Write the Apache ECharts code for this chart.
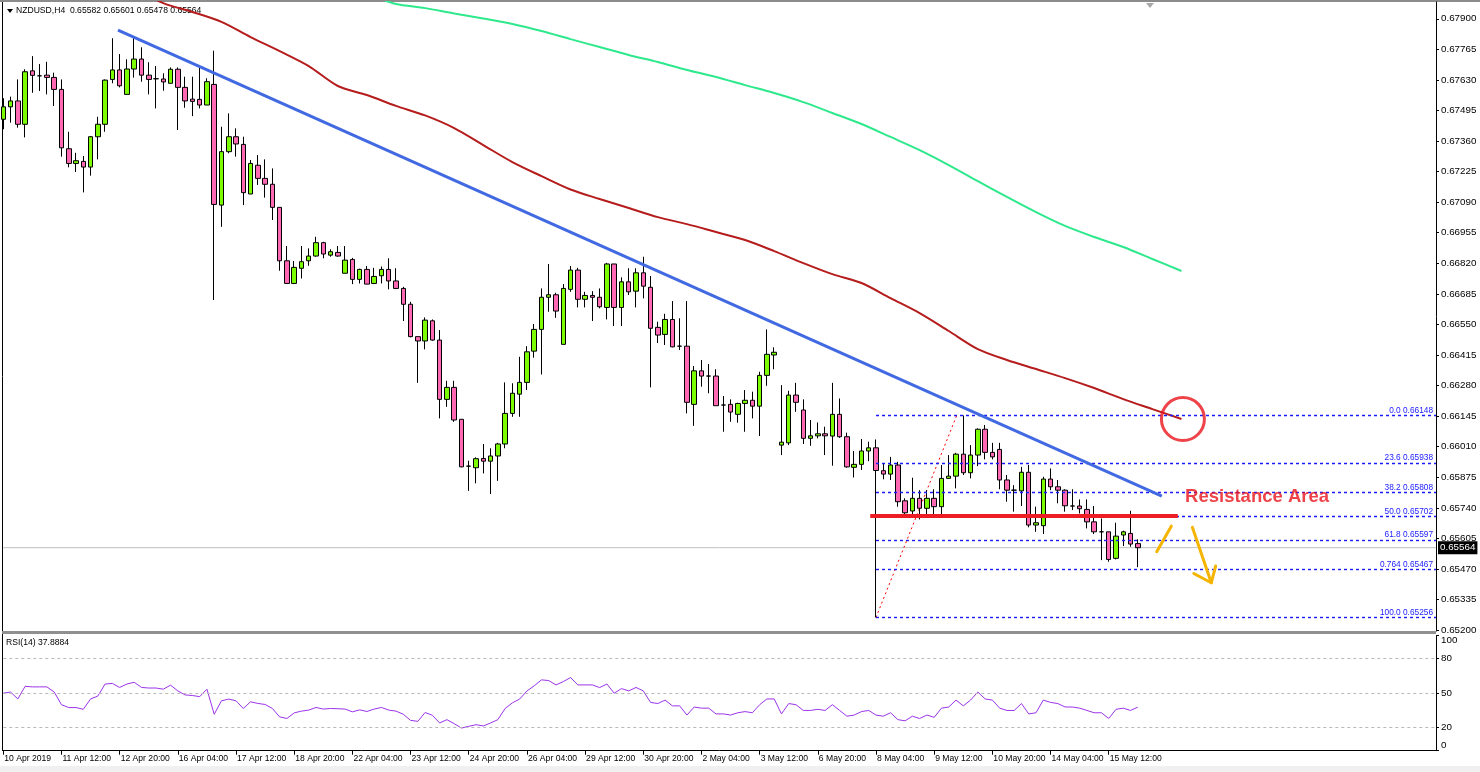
<!DOCTYPE html>
<html><head><meta charset="utf-8">
<script src="https://cdn.jsdelivr.net/npm/echarts@6/dist/echarts.min.js"></script>
<style>html,body{margin:0;padding:0;background:#fff;}#c{width:1480px;height:772px;}</style>
</head><body><div id="c"></div>
<script>
const tickLabels = ['10 Apr 2019','11 Apr 12:00','12 Apr 20:00','16 Apr 04:00','17 Apr 12:00','18 Apr 20:00','22 Apr 04:00','23 Apr 12:00','24 Apr 20:00','26 Apr 04:00','29 Apr 12:00','30 Apr 20:00','2 May 04:00','3 May 12:00','6 May 20:00','8 May 04:00','9 May 12:00','10 May 20:00','14 May 04:00','15 May 12:00'];
const priceTicks = [0.65200,0.65335,0.65470,0.65605,0.65740,0.65875,0.66010,0.66145,0.66280,0.66415,0.66550,0.66685,0.66820,0.66955,0.67090,0.67225,0.67360,0.67495,0.67630,0.67765,0.67900];
const rsiTicks = [0,20,50,80,100];
const rsiLevels = [20,50,80];

const opens = [0.67456,0.67511,0.67537,0.67434,0.67670,0.67648,0.67651,0.67641,0.67588,0.67326,
0.67261,0.67270,0.67245,0.67379,0.67434,0.67632,0.67674,0.67566,0.67678,0.67722,
0.67651,0.67635,0.67634,0.67615,0.67677,0.67597,0.67545,0.67544,0.67519,0.67610,
0.67077,0.67313,0.67379,0.67345,0.67126,0.67253,0.67195,0.67169,0.67067,0.66831,
0.66731,0.66798,0.66831,0.66852,0.66911,0.66856,0.66868,0.66776,0.66837,0.66749,
0.66793,0.66731,0.66765,0.66793,0.66742,0.66709,0.66639,0.66496,0.66477,0.66566,
0.66481,0.66219,0.66272,0.66131,0.65924,0.65917,0.65958,0.65946,0.65969,0.66022,
0.66157,0.66242,0.66294,0.66432,0.66528,0.66670,0.66681,0.66462,0.66705,0.66790,
0.66661,0.66678,0.66670,0.66625,0.66817,0.66625,0.66738,0.66697,0.66778,0.66714,
0.66537,0.66506,0.66572,0.66454,0.66454,0.66197,0.66345,0.66322,0.66322,0.66194,
0.66197,0.66153,0.66201,0.66215,0.66189,0.66325,0.66415,0.66017,0.66027,0.66238,
0.66172,0.66047,0.66058,0.66067,0.66057,0.66153,0.66054,0.65919,0.65932,0.65991,
0.66005,0.65904,0.65889,0.65929,0.65771,0.65726,0.65782,0.65738,0.65782,0.65745,
0.65870,0.65880,0.65977,0.65895,0.65973,0.66087,0.65985,0.65998,0.65863,0.65818,
0.65815,0.65897,0.65664,0.65661,0.65867,0.65833,0.65818,0.65748,0.65748,0.65733,
0.65678,0.65634,0.65634,0.65517,0.65620,0.65627,0.65582];
const closes = [0.67511,0.67537,0.67434,0.67666,0.67650,0.67648,0.67641,0.67588,0.67330,0.67261,
0.67273,0.67245,0.67379,0.67434,0.67629,0.67674,0.67604,0.67678,0.67722,0.67651,
0.67632,0.67635,0.67621,0.67677,0.67597,0.67537,0.67535,0.67519,0.67622,0.67080,
0.67313,0.67379,0.67347,0.67132,0.67261,0.67195,0.67169,0.67067,0.66831,0.66731,
0.66802,0.66827,0.66852,0.66911,0.66861,0.66871,0.66852,0.66834,0.66749,0.66793,
0.66728,0.66762,0.66793,0.66742,0.66709,0.66639,0.66496,0.66477,0.66569,0.66481,
0.66219,0.66272,0.66128,0.65921,0.65924,0.65957,0.65946,0.65969,0.66022,0.66157,
0.66246,0.66294,0.66429,0.66528,0.66670,0.66681,0.66609,0.66709,0.66790,0.66661,
0.66678,0.66670,0.66628,0.66817,0.66625,0.66738,0.66694,0.66778,0.66719,0.66533,
0.66503,0.66572,0.66451,0.66454,0.66206,0.66345,0.66322,0.66322,0.66191,0.66194,
0.66163,0.66201,0.66215,0.66189,0.66325,0.66418,0.66427,0.66030,0.66238,0.66206,
0.66047,0.66058,0.66067,0.66058,0.66153,0.66054,0.65921,0.65932,0.65991,0.66005,
0.65905,0.65889,0.65929,0.65767,0.65718,0.65782,0.65738,0.65782,0.65745,0.65870,
0.65880,0.65977,0.65895,0.65973,0.66087,0.65985,0.65965,0.65863,0.65818,0.65818,
0.65897,0.65664,0.65674,0.65867,0.65833,0.65818,0.65749,0.65748,0.65736,0.65678,
0.65634,0.65634,0.65512,0.65615,0.65634,0.65580,0.65564];
const lows = [0.67412,0.67441,0.67419,0.67376,0.67573,0.67581,0.67566,0.67515,0.67291,0.67244,
0.67223,0.67133,0.67207,0.67279,0.67401,0.67615,0.67597,0.67566,0.67640,0.67622,
0.67566,0.67504,0.67582,0.67615,0.67409,0.67507,0.67470,0.67504,0.67519,0.66658,
0.66981,0.67306,0.67291,0.67077,0.67126,0.67166,0.67110,0.67011,0.66787,0.66731,
0.66728,0.66753,0.66809,0.66849,0.66842,0.66849,0.66849,0.66776,0.66728,0.66731,
0.66728,0.66728,0.66731,0.66705,0.66706,0.66565,0.66493,0.66292,0.66440,0.66478,
0.66135,0.66186,0.66120,0.65919,0.65815,0.65848,0.65892,0.65801,0.65859,0.66003,
0.66142,0.66142,0.66260,0.66403,0.66329,0.66606,0.66579,0.66462,0.66694,0.66625,
0.66625,0.66565,0.66621,0.66572,0.66543,0.66543,0.66680,0.66625,0.66665,0.66272,
0.66468,0.66459,0.66449,0.66437,0.66157,0.66102,0.66275,0.66246,0.66191,0.66076,
0.66120,0.66116,0.66076,0.66135,0.66057,0.66279,0.66352,0.65973,0.66017,0.66164,
0.66022,0.66014,0.66047,0.65973,0.65926,0.66049,0.65917,0.65874,0.65907,0.65946,
0.65256,0.65866,0.65863,0.65745,0.65711,0.65708,0.65689,0.65708,0.65708,0.65708,
0.65870,0.65826,0.65885,0.65870,0.65924,0.65954,0.65954,0.65822,0.65767,0.65723,
0.65748,0.65654,0.65634,0.65624,0.65818,0.65760,0.65723,0.65730,0.65715,0.65649,
0.65624,0.65509,0.65502,0.65512,0.65571,0.65568,0.65478];
const highs = [0.67549,0.67556,0.67632,0.67677,0.67735,0.67700,0.67710,0.67662,0.67632,0.67401,
0.67308,0.67294,0.67382,0.67467,0.67632,0.67814,0.67744,0.67721,0.67821,0.67774,
0.67708,0.67691,0.67659,0.67685,0.67685,0.67644,0.67644,0.67685,0.67637,0.67759,
0.67423,0.67482,0.67416,0.67379,0.67276,0.67298,0.67279,0.67239,0.67067,0.66896,
0.66830,0.66896,0.66886,0.66937,0.66915,0.66882,0.66896,0.66896,0.66844,0.66796,
0.66808,0.66800,0.66806,0.66842,0.66798,0.66716,0.66650,0.66496,0.66581,0.66572,
0.66525,0.66301,0.66301,0.66131,0.65948,0.65963,0.66022,0.66003,0.66027,0.66294,
0.66290,0.66407,0.66454,0.66552,0.66709,0.66817,0.66690,0.66728,0.66808,0.66800,
0.66694,0.66697,0.66709,0.66822,0.66817,0.66758,0.66798,0.66798,0.66849,0.66764,
0.66562,0.66597,0.66653,0.66577,0.66653,0.66366,0.66393,0.66375,0.66352,0.66234,
0.66219,0.66204,0.66260,0.66253,0.66341,0.66528,0.66449,0.66282,0.66257,0.66292,
0.66219,0.66128,0.66117,0.66098,0.66292,0.66223,0.66072,0.65991,0.66044,0.66032,
0.66042,0.65936,0.65965,0.65943,0.65782,0.65873,0.65818,0.65818,0.65822,0.65929,
0.65973,0.65983,0.66148,0.66017,0.66091,0.66106,0.66027,0.66027,0.65885,0.65840,
0.65921,0.65929,0.65745,0.65877,0.65914,0.65863,0.65822,0.65822,0.65777,0.65777,
0.65748,0.65693,0.65634,0.65674,0.65639,0.65727,0.65601];

const rsiValues = [50,51,45,56,55.5,55.5,55.5,51,40,37.5,37.5,36,45,47.5,58,58.5,55,58,59.5,55,
54.5,54.5,53.5,57,52,48.5,48,47,53.5,31.7,43.4,44.9,43.4,36.7,42.5,41.1,40.2,36.7,29.4,28,
32.9,34.4,35.3,37.6,36.2,36.7,36.5,36.2,33.8,35.5,34.1,36.2,37.6,35.3,34.4,31.7,26.4,25.5,33.2,30.8,
24.1,27,23.5,19.7,21.2,22.6,21.5,24.1,27,36.7,41.6,44.9,51.9,56.4,61.6,61,57.2,60.1,63.6,57.2,
57.2,57.2,54.9,58,50,54,52,55,52,42,41,44,39,39,31,38,37,37,32,32,
31,33,34,33,40,45,45,32,41,40,35,35,36,35,40,35,30,31,34,35,
31,30,33,27,26,30,28,31,29,37,38,44,39,44,51,45,44,37,35,35,
41,32,33,44,42,41,38,38,37,35,33,33,28,36,37,35,37.89];

const redMA = [[18,0.68036],[22,0.67969],[26,0.67930],[30,0.67886],[34,0.67819],[38,0.67757],[42,0.67691],[46,0.67603],[50,0.67563],[54,0.67515],[58,0.67473],[62,0.67417],[66,0.67342],[70,0.67267],[74,0.67205],[78,0.67146],[82,0.67104],[86,0.67064],[90,0.67024],[94,0.66993],[98,0.66958],[102,0.66923],[106,0.66874],[110,0.66821],[114,0.66772],[118,0.66733],[122,0.66666],[126,0.66600],[130,0.66521],[134,0.66441],[138,0.66393],[142,0.66353],[146,0.66313],[150,0.66269],[154,0.66220],[158,0.66176],[162,0.66132]];
const greenMA = [[52,0.67987],[54,0.67965],[58,0.67947],[62,0.67923],[66,0.67901],[70,0.67877],[74,0.67846],[78,0.67810],[82,0.67775],[86,0.67740],[90,0.67709],[94,0.67674],[98,0.67643],[102,0.67607],[106,0.67572],[110,0.67532],[114,0.67484],[118,0.67435],[122,0.67378],[126,0.67320],[130,0.67254],[134,0.67183],[138,0.67113],[142,0.67046],[146,0.66985],[150,0.66936],[154,0.66892],[158,0.66839],[162,0.66786]];
const trendLine = [[15.77,0.67850],[159.3,0.65792]];
const resistanceLine = [[119.2,0.65704],[161.5,0.65704]];
const fibTrend = [[120,0.65256],[131.1,0.66148]];
const fibLevels = [0.66148,0.65938,0.65808,0.65702,0.65597,0.65467,0.65256];
const fibNames = ['0.0','23.6','38.2','50.0','61.8','0.764','100.0'];
const fibStart = 120;
const lastPrice = 0.65564;
const circlePoint = [[162.2,0.66132]];
const resistanceText = [[162.5,0.65787]];
const upStroke = [[158.6,0.65546],[160.6,0.65659]];
const arrowShaft = [[163.5,0.65654],[166.1,0.65409]];
const arrowHead = [[163.7,0.65450],[166.1,0.65409],[166.7,0.65483]];

const slotCount = 198;
const lastLabelIdx = 152;
const categories = Array.from({length: slotCount}, (_, i) => 'bar' + i);
const FONT = 'Liberation Sans';

const chart = echarts.init(document.getElementById('c'), null, {renderer: 'canvas'});
const showTick = (i) => i % 8 === 0 && i <= lastLabelIdx;
const orange = '#f5b400';

const option = {
  animation: false,
  backgroundColor: '#ffffff',
  textStyle: {fontFamily: FONT},
  grid: [
    {left: 3.3, top: 2, width: 1432.7, height: 629, show: false},
    {left: 3.3, top: 635.7, width: 1432.7, height: 115, show: false}
  ],
  xAxis: [
    {type: 'category', gridIndex: 0, data: categories, boundaryGap: false,
     axisLine: {show: false}, axisTick: {show: false}, axisLabel: {show: false}, splitLine: {show: false}},
    {type: 'value', gridIndex: 0, min: 0, max: slotCount - 1, show: false},
    {type: 'category', gridIndex: 1, data: categories, boundaryGap: false,
     axisLine: {show: true, lineStyle: {color: '#000', width: 1}},
     axisTick: {show: true, interval: (i) => showTick(i), length: 4, lineStyle: {color: '#000'}},
     axisLabel: {show: true, interval: (i) => showTick(i), formatter: (v, i) => tickLabels[i / 8] || '',
       align: 'left', margin: 3, padding: [0, 0, 0, 1], fontSize: 8.6, color: '#000', fontFamily: FONT},
     splitLine: {show: false}}
  ],
  yAxis: [
    {type: 'value', gridIndex: 0, position: 'right', min: 0.65196, max: 0.67974, scale: true,
     axisLine: {show: true, onZero: false, lineStyle: {color: '#000'}},
     axisTick: {show: true, customValues: priceTicks, length: 3, lineStyle: {color: '#000'}},
     axisLabel: {show: true, customValues: priceTicks, formatter: (v) => v.toFixed(5), margin: 5, fontSize: 9.8, color: '#000', fontFamily: FONT},
     splitLine: {show: false}},
    {type: 'value', gridIndex: 1, position: 'right', min: 0, max: 100,
     axisLine: {show: true, onZero: false, lineStyle: {color: '#000'}},
     axisTick: {show: true, customValues: rsiTicks, length: 3, lineStyle: {color: '#000'}},
     axisLabel: {show: true, customValues: rsiTicks, margin: 5, fontSize: 9.8, color: '#000', fontFamily: FONT,
       verticalAlignMaxLabel: 'top', verticalAlignMinLabel: 'bottom'},
     splitLine: {show: false}}
  ],
  series: [
    {type: 'line', name: 'bid', xAxisIndex: 1, yAxisIndex: 0, data: [[0, lastPrice], [slotCount - 1, lastPrice]],
     symbol: 'none', z: 1, lineStyle: {color: '#c0c0c0', width: 1}, silent: true,
     endLabel: {show: true, formatter: lastPrice.toFixed(5), color: '#fff', backgroundColor: '#000',
       padding: [2, 2, 1, 2], fontSize: 9.8, fontFamily: FONT, distance: 2}},
    {type: 'line', name: 'fib', xAxisIndex: 1, yAxisIndex: 0, data: fibTrend, symbol: 'none', z: 1,
     lineStyle: {color: '#ff0000', width: 1, type: [2, 3]},
     markLine: {silent: true, symbol: 'none', animation: false,
       lineStyle: {color: '#1a1aff', width: 1.4, type: [3, 3], opacity: 1},
       label: {show: true, position: 'insideEndTop', formatter: '{b}', color: '#1a1aff', fontSize: 8.3, fontFamily: FONT, distance: [3, 1]},
       data: fibLevels.map((lv, k) => [
         {name: fibNames[k] + ' ' + lv.toFixed(5), coord: [fibStart, lv]},
         {coord: [slotCount - 1, lv]}
       ])
     }},
    {type: 'candlestick', name: 'NZDUSD', xAxisIndex: 0, yAxisIndex: 0, z: 3, barWidth: 5,
     data: opens.map((o, i) => [o, closes[i], lows[i], highs[i]]),
     itemStyle: {color: '#7cfc00', color0: '#ff69b4', borderColor: '#000', borderColor0: '#000', borderColorDoji: '#000', borderWidth: 1}},
    {type: 'line', name: 'MA red', xAxisIndex: 1, yAxisIndex: 0, data: redMA, symbol: 'none', smooth: 0.3, z: 4,
     lineStyle: {color: '#b51c1c', width: 2}},
    {type: 'line', name: 'MA green', xAxisIndex: 1, yAxisIndex: 0, data: greenMA, symbol: 'none', smooth: 0.3, z: 4,
     lineStyle: {color: '#2ee88c', width: 2}},
    {type: 'line', name: 'trend', xAxisIndex: 1, yAxisIndex: 0, data: trendLine, symbol: 'none', z: 5,
     lineStyle: {color: '#4169e1', width: 3}},
    {type: 'line', name: 'resistance', xAxisIndex: 1, yAxisIndex: 0, data: resistanceLine, symbol: 'none', z: 5,
     lineStyle: {color: '#ee1c24', width: 4}},
    {type: 'scatter', name: 'circle', xAxisIndex: 1, yAxisIndex: 0, data: circlePoint, symbol: 'circle', symbolSize: 43, z: 6,
     itemStyle: {color: 'rgba(0,0,0,0)', borderColor: '#e8141c', borderWidth: 3}},
    {type: 'scatter', name: 'label', xAxisIndex: 1, yAxisIndex: 0, data: resistanceText, symbolSize: 0, z: 6,
     label: {show: true, position: [0, 0], align: 'left', verticalAlign: 'middle', formatter: 'Resistance Area',
       color: '#e8141c', fontSize: 18.5, fontWeight: 'bold', fontFamily: FONT}},
    {type: 'line', name: 'up', xAxisIndex: 1, yAxisIndex: 0, data: upStroke, symbol: 'none', z: 6,
     lineStyle: {color: orange, width: 3, cap: 'round'}},
    {type: 'line', name: 'shaft', xAxisIndex: 1, yAxisIndex: 0, data: arrowShaft, symbol: 'none', z: 6,
     lineStyle: {color: orange, width: 3, cap: 'round'}},
    {type: 'line', name: 'head', xAxisIndex: 1, yAxisIndex: 0, data: arrowHead, symbol: 'none', z: 6,
     lineStyle: {color: orange, width: 3, cap: 'round', join: 'round'}},
    {type: 'line', name: 'RSI', xAxisIndex: 2, yAxisIndex: 1, data: rsiValues, symbol: 'none', z: 3,
     lineStyle: {color: '#9b34ea', width: 1},
     markLine: {silent: true, symbol: 'none', label: {show: false},
       lineStyle: {color: '#b8b8b8', width: 1, type: [3, 3]},
       data: rsiLevels.map(v => ({yAxis: v}))}}
  ],
  graphic: [
    {type: 'rect', shape: {x: 0, y: 0, width: 1480, height: 2}, style: {fill: '#8c8c8c'}, silent: true},
    {type: 'rect', shape: {x: 0, y: 766, width: 1480, height: 6}, style: {fill: '#f0f0f0'}, silent: true},
    {type: 'line', shape: {x1: 2.5, y1: 2, x2: 2.5, y2: 751}, style: {stroke: '#000', lineWidth: 1}, silent: true},
    {type: 'rect', shape: {x: 2, y: 631, width: 1434, height: 3}, style: {fill: '#8f8f8f'}, silent: true, z: 10},
    {type: 'polygon', shape: {points: [[7, 9], [13, 9], [10, 13]]}, style: {fill: '#000'}, silent: true},
    {type: 'text', x: 16, y: 6, style: {text: 'NZDUSD,H4  0.65582 0.65601 0.65478 0.65564', fill: '#000', font: '8.6px "Liberation Sans"'}, silent: true},
    {type: 'polygon', shape: {points: [[1146, 3], [1154, 3], [1150, 8]]}, style: {fill: '#a8a8a8'}, silent: true},
    {type: 'text', x: 6, y: 638, style: {text: 'RSI(14) 37.8884', fill: '#000', font: '8.6px "Liberation Sans"'}, silent: true}
  ]
};
chart.setOption(option);
</script>
</body></html>
